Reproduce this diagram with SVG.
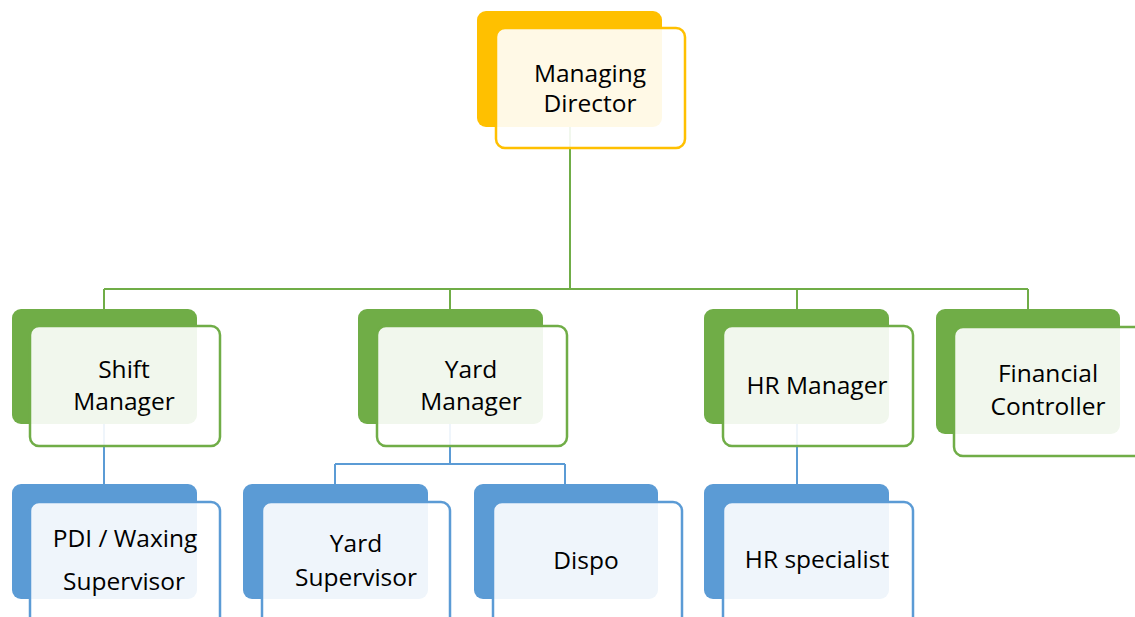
<svg xmlns="http://www.w3.org/2000/svg" width="1135" height="617" viewBox="0 0 1135 617">
<style>
.bk-gold{fill:#FFC000}
.bk-green{fill:#70AD47}
.bk-blue{fill:#5B9BD5}
.fr{fill:#FFFFFF;fill-opacity:0.9;stroke-width:2.5}
.fr-gold{stroke:#FFC000}
.fr-green{stroke:#70AD47}
.fr-blue{stroke:#5B9BD5}
.ln-green{stroke:#70AD47;stroke-width:2;fill:none}
.ln-blue{stroke:#5B9BD5;stroke-width:2;fill:none}
text{font-family:"Open Sans","Liberation Sans",sans-serif;font-size:24.5px;fill:#000;text-anchor:middle}
</style>
<rect width="1135" height="617" fill="#FFFFFF"/>
<g id="connectors">
<path class="ln-green" d="M570 127V289M104 289H1028M104 289V309M450 289V309M797 289V309M1028 289V309"/>
<path class="ln-blue" d="M104 424V484M450 424V464M335 464H565M335 464V484M565 464V484M797 424V484"/>
</g>
<g id="managing-director">
<rect class="bk-gold" x="477" y="11" width="185" height="116" rx="9"/>
<rect class="fr fr-gold" x="496" y="28" width="189" height="120" rx="9"/>
<text x="590" y="82">Managing</text>
<text x="590" y="112">Director</text>
</g>
<g id="shift-manager">
<rect class="bk-green" x="12" y="309" width="185" height="115" rx="9"/>
<rect class="fr fr-green" x="30" y="326" width="190" height="120" rx="9"/>
<text x="124" y="378">Shift</text>
<text x="124" y="410">Manager</text>
</g>
<g id="yard-manager">
<rect class="bk-green" x="358" y="309" width="185" height="115" rx="9"/>
<rect class="fr fr-green" x="377" y="326" width="190" height="120" rx="9"/>
<text x="471" y="378">Yard</text>
<text x="471" y="410">Manager</text>
</g>
<g id="hr-manager">
<rect class="bk-green" x="704" y="309" width="185" height="115" rx="9"/>
<rect class="fr fr-green" x="723" y="326" width="190" height="120" rx="9"/>
<text x="817" y="394">HR Manager</text>
</g>
<g id="financial-controller">
<rect class="bk-green" x="936" y="309" width="184" height="125" rx="9"/>
<rect class="fr fr-green" x="954" y="327" width="190" height="129" rx="9"/>
<text x="1048" y="382">Financial</text>
<text x="1048" y="415">Controller</text>
</g>
<g id="pdi-waxing-supervisor">
<rect class="bk-blue" x="12" y="484" width="185" height="115" rx="9"/>
<rect class="fr fr-blue" x="30" y="502" width="190" height="125" rx="9"/>
<text x="125" y="547">PDI / Waxing</text>
<text x="124" y="590">Supervisor</text>
</g>
<g id="yard-supervisor">
<rect class="bk-blue" x="243" y="484" width="185" height="115" rx="9"/>
<rect class="fr fr-blue" x="262" y="502" width="188" height="125" rx="9"/>
<text x="356" y="552">Yard</text>
<text x="356" y="586">Supervisor</text>
</g>
<g id="dispo">
<rect class="bk-blue" x="474" y="484" width="184" height="115" rx="9"/>
<rect class="fr fr-blue" x="493" y="502" width="189" height="125" rx="9"/>
<text x="586" y="569">Dispo</text>
</g>
<g id="hr-specialist">
<rect class="bk-blue" x="704" y="484" width="185" height="115" rx="9"/>
<rect class="fr fr-blue" x="723" y="502" width="190" height="125" rx="9"/>
<text x="817" y="568">HR specialist</text>
</g>
</svg>
